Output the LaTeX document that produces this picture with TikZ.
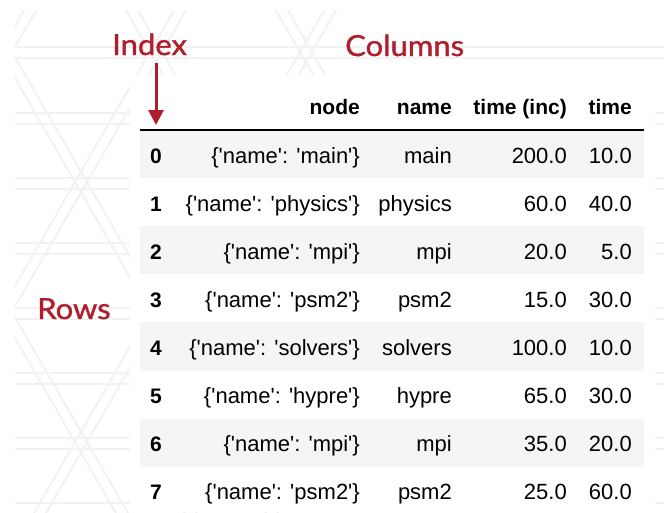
\documentclass[tikz,border=0pt]{standalone}
\usepackage{fontspec}
\setmainfont{Liberation Sans}[Ligatures=TeXOff]
\newfontfamily\labelfont{Lato}[FakeBold=1.2,FakeStretch=1.07]
\usetikzlibrary{arrows.meta}
\definecolor{lblred}{RGB}{176,30,46}
\definecolor{rowgray}{RGB}{245,245,245}
\definecolor{patgray}{RGB}{242,242,242}
\begin{document}
\begin{tikzpicture}[x=1pt,y=-1pt,
  cell/.style={anchor=base east, inner sep=0pt, font=\fontsize{22}{26}\selectfont},
  hdr/.style={anchor=base east, inner sep=0pt, font=\fontsize{21}{25}\selectfont\bfseries},
  idx/.style={anchor=base, inner sep=0pt, font=\fontsize{21}{25}\selectfont\bfseries},
  lbl/.style={anchor=base west, inner sep=0pt, text=lblred, font=\labelfont\fontsize{29}{33}\selectfont},
  pat/.style={draw=patgray, line width=2pt},
  pointer/.style={draw=lblred, line width=3pt, -{Triangle[width=15pt,length=15pt]}}]
\useasboundingbox (0,0) rectangle (664,512);
% faint background pattern
\begin{scope}
  \clip (15,10) rectangle (664,512);
  \foreach \y in {47,113,178,243,308,373,438,503} {
    \draw[pat] (15,\y) -- (664,\y);
    \draw[pat] (15,\y+10.5) -- (664,\y+10.5);
  }
\end{scope}
\begin{scope}
  \clip (15,10) rectangle (400,512);
  \foreach \k in {-3,...,3} {
    \draw[pat] ({\k*150-30},0) -- ++(300,520);
    \draw[pat] ({\k*150-18},0) -- ++(300,520);
    \draw[pat] ({\k*150+30},0) -- ++(-300,520);
    \draw[pat] ({\k*150+42},0) -- ++(-300,520);
  }
\end{scope}
\fill[white] (130,75) rectangle (655,512);
% row shading
\foreach \i in {0,2,4,6}
  \fill[rowgray] (140,{130+48.1*\i}) rectangle (644,{130+48.1*(\i+1)});
\draw[line width=1.3pt] (140,130) -- (644,130);
% header
\node[hdr] (hnode) at (360,114) {node};
\node[hdr] (hname) at (452,114) {name};
\node[hdr] (hinc) at (567,114) {time (inc)};
\node[hdr] (htime) at (632,114) {time};
% rows
\foreach \i/\a/\c/\d in {0/main/200.0/10.0, 1/physics/60.0/40.0, 2/mpi/20.0/5.0,
    3/psm2/15.0/30.0, 4/solvers/100.0/10.0, 5/hypre/65.0/30.0,
    6/mpi/35.0/20.0, 7/psm2/25.0/60.0} {
  \node[idx] (r\i) at (156,{163+48.1*\i}) {\i};
  \node[cell] (n\i) at (360,{163+48.1*\i}) {\{'name': '\a'\}};
  \node[cell] (m\i) at (452,{163+48.1*\i}) {\a};
  \node[cell] (t\i) at (567,{163+48.1*\i}) {\c};
  \node[cell] (e\i) at (632,{163+48.1*\i}) {\d};
}
% labels
\node[lbl] (index) at (112,55) {Index};
\node[lbl] (columns) at (345,56) {Columns};
\node[lbl] (rows) at (37,319) {Rows};
\coordinate (astart) at (156,63);
\coordinate (atip) at (156,125);
\draw[pointer] (astart) -- (atip);
\end{tikzpicture}
\end{document}
